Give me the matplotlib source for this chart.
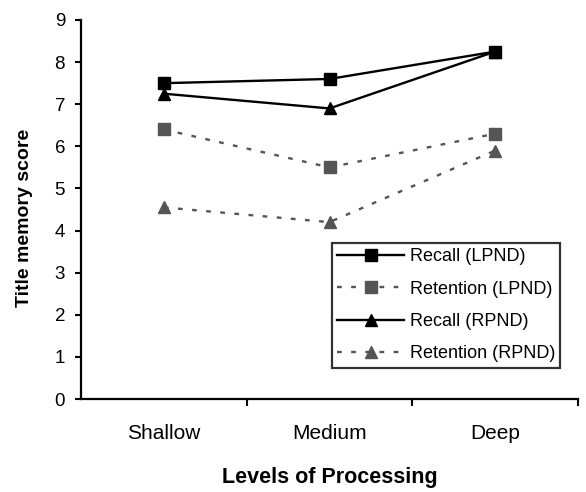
import matplotlib.pyplot as plt

plt.rcParams['font.family'] = ['Liberation Sans', 'DejaVu Sans']

levels = ['Shallow', 'Medium', 'Deep']
recall_lpnd = [7.5, 7.6, 8.25]
retention_lpnd = [6.4, 5.5, 6.3]
recall_rpnd = [7.25, 6.9, 8.25]
retention_rpnd = [4.55, 4.2, 5.9]

fig = plt.figure(figsize=(5.86, 4.92), dpi=100)
ax = fig.add_axes([81 / 586, 93 / 492, 497 / 586, 379 / 492])

x = range(len(levels))
dots = (0, (2, 4))
ax.plot(x, recall_lpnd, color='black', lw=1.7, marker='s', ms=8, label='Recall (LPND)')
ax.plot(x, retention_lpnd, color='#555555', lw=1.7, ls=dots, marker='s', ms=8,
        label='Retention (LPND)')
ax.plot(x, recall_rpnd, color='black', lw=1.7, marker='^', ms=9, label='Recall (RPND)')
ax.plot(x, retention_rpnd, color='#555555', lw=1.7, ls=dots, marker='^', ms=9,
        label='Retention (RPND)')

ax.set_xlim(-0.5, 2.5)
ax.set_ylim(0, 9)
ax.set_yticks(range(10))
ax.set_xticks(list(x))
ax.set_xticklabels(levels)
ax.set_xticks([0.5, 1.5, 2.5], minor=True)
ax.tick_params(axis='y', labelsize=13.5, length=4.5, width=1.5, pad=7)
ax.tick_params(axis='x', which='major', labelsize=15, length=0, pad=18)
ax.tick_params(axis='x', which='minor', length=5, width=1.5)
for s in ['top', 'right']:
    ax.spines[s].set_visible(False)
for s in ['left', 'bottom']:
    ax.spines[s].set_linewidth(1.6)

ax.set_ylabel('Title memory score', fontsize=14, fontweight='bold')
ax.yaxis.set_label_coords(-0.097, 0.478)
ax.set_xlabel('Levels of Processing', fontsize=15.5, fontweight='bold')
ax.xaxis.set_label_coords(0.5, -0.179)

leg = ax.legend(loc='upper left', bbox_to_anchor=(332 / 586, 1 - 243 / 492),
                bbox_transform=fig.transFigure, borderaxespad=0, fontsize=13,
                frameon=True, fancybox=False, edgecolor='black', handlelength=3.7,
                handletextpad=0.3, labelspacing=0.85, borderpad=0.3)
leg.get_frame().set_linewidth(1.6)

fig.savefig('out.png', dpi=100)
